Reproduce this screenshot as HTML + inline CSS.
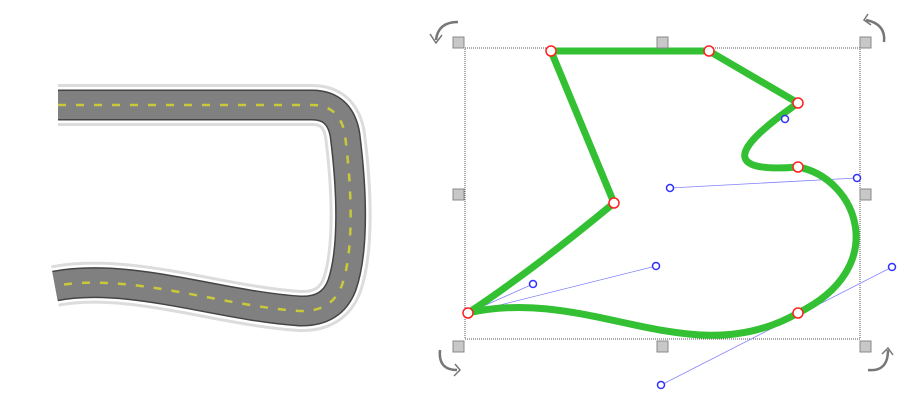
<!DOCTYPE html>
<html><head><meta charset="utf-8"><style>
html,body{margin:0;padding:0;background:#fff;width:918px;height:417px;overflow:hidden}
</style></head><body>
<svg width="918" height="417" viewBox="0 0 918 417">
<g fill="none">
 <path d="M58,105 L312,105 Q340,105 345,135 C352,190 354,250 342,285 Q332,312 300,311 C220,306 130,272 55,286" stroke="#dcdcdc" stroke-width="42"/>
 <path d="M58,105 L312,105 Q340,105 345,135 C352,190 354,250 342,285 Q332,312 300,311 C220,306 130,272 55,286" stroke="#fff" stroke-width="36"/>
 <path d="M58,105 L312,105 Q340,105 345,135 C352,190 354,250 342,285 Q332,312 300,311 C220,306 130,272 55,286" stroke="#444" stroke-width="31"/>
 <path d="M58,105 L312,105 Q340,105 345,135 C352,190 354,250 342,285 Q332,312 300,311 C220,306 130,272 55,286" stroke="#808080" stroke-width="28"/>
 <path d="M58,105 L312,105 Q340,105 345,135 C352,190 354,250 342,285 Q332,312 300,311 C220,306 130,272 55,286" stroke="#c9c93a" stroke-width="2.5" stroke-dasharray="8 10"/>
 <rect x="0" y="70" width="58" height="60" fill="#fff"/>
</g>
<g>
 <rect x="465" y="48" width="395" height="291" fill="none" stroke="#555" stroke-width="1" stroke-dasharray="1 1"/>
</g>
<g stroke="#8080ff" stroke-width="0.8" fill="none">
 <line x1="468" y1="313" x2="533" y2="284"/><line x1="468" y1="313" x2="656" y2="266"/>
 <line x1="670" y1="188" x2="857" y2="178"/><line x1="661" y1="385" x2="892" y2="267"/>
</g>
<path d="M551,51 L709,51 L798,103 C760,130 700,175 798,167 C857,178 892,267 798,313 C690,375 590,285 468,313 Q533,270 614,203 Z" fill="none" stroke="#33c133" stroke-width="7" stroke-linejoin="round"/>
<g fill="#fff" stroke="#3030ff" stroke-width="1.5">
 <circle cx="785" cy="119" r="3.5"/><circle cx="670" cy="188" r="3.5"/><circle cx="857" cy="178" r="3.5"/>
 <circle cx="533" cy="284" r="3.5"/><circle cx="656" cy="266" r="3.5"/><circle cx="892" cy="267" r="3.5"/><circle cx="661" cy="385" r="3.5"/>
</g>
<g fill="#fff" stroke="#ff2020" stroke-width="1.5">
 <circle cx="551" cy="51" r="5"/><circle cx="709" cy="51" r="5"/><circle cx="798" cy="103" r="5"/><circle cx="798" cy="167" r="5"/>
 <circle cx="798" cy="313" r="5"/><circle cx="468" cy="313" r="5"/><circle cx="614" cy="203" r="5"/>
</g>
<g fill="#c8c8c8" stroke="#888" stroke-width="1">
 <rect x="453" y="37" width="11" height="11"/><rect x="657" y="37" width="11" height="11"/><rect x="860" y="37" width="11" height="11"/>
 <rect x="453" y="189" width="11" height="11"/><rect x="860" y="189" width="11" height="11"/>
 <rect x="453" y="341" width="11" height="11"/><rect x="657" y="341" width="11" height="11"/><rect x="860" y="341" width="11" height="11"/>
</g>
<g fill="none" stroke="#777" stroke-width="2.5">
 <path d="M458,22 Q438,22 436,40"/><path d="M430,34 L436,43 L442,35" stroke-width="1.5"/>
 <path d="M866,20 Q886,24 884,42"/><path d="M868,14 L864,20 L871,25" stroke-width="1.5"/>
 <path d="M440,350 Q438,370 457,370"/><path d="M455,364 L460,370 L454,376" stroke-width="1.5"/>
 <path d="M868,370 Q888,372 888,350"/><path d="M882,354 L888,348 L893,355" stroke-width="1.5"/>
</g>
</svg>
</body></html>
